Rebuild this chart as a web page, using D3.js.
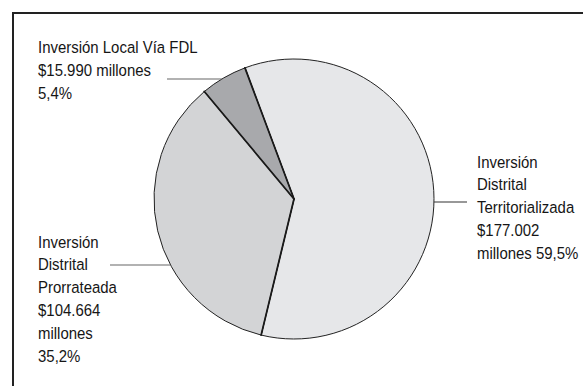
<!DOCTYPE html>
<html>
<head>
<meta charset="utf-8">
<script src="https://cdn.jsdelivr.net/npm/d3@7"></script>
<style>
  html, body { margin: 0; padding: 0; background: #fff; }
  svg { display: block; }
  text { font-family: "Liberation Sans", Arial, Helvetica, sans-serif; font-size: 17px; fill: #161616; }
</style>
</head>
<body>
<svg id="chart" width="583" height="386"></svg>
<script>
// Inversión por componente (millones de pesos)
const categories = ["Inversión Distrital Territorializada", "Inversión Distrital Prorrateada", "Inversión Local Vía FDL"];
const values = [177002, 104664, 15990];
const fills = ["#e6e7e9", "#d3d4d6", "#a8a9ac"];

// Label lines for each slice, as printed
const labelLines = [
  ["Inversión", "Distrital", "Territorializada", "$177.002", "millones 59,5%"],
  ["Inversión", "Distrital", "Prorrateada", "$104.664", "millones", "35,2%"],
  ["Inversión Local Vía FDL", "$15.990 millones", "5,4%"]
];

const W = 583, H = 386;
const cx = 294, cy = 199, R = 140;
const startDeg = -20.5;
const condense = 0.88;   // narrow type

const svg = d3.select("#chart");

// Frame (only top and left edges fall inside the view)
svg.append("rect")
  .attr("x", 13).attr("y", 13)
  .attr("width", W + 20).attr("height", H + 20)
  .attr("fill", "none").attr("stroke", "#222").attr("stroke-width", 2);

const pie = d3.pie().sort(null)
  .startAngle(startDeg * Math.PI / 180)
  .endAngle(startDeg * Math.PI / 180 + 2 * Math.PI);
const arcs = pie(values);
const arc = d3.arc().innerRadius(0).outerRadius(R);

const g = svg.append("g").attr("transform", `translate(${cx},${cy})`);

g.selectAll("path.slice").data(arcs).join("path")
  .attr("class", "slice")
  .attr("d", arc)
  .attr("fill", (d, i) => fills[i])
  .attr("stroke", "#222")
  .attr("stroke-width", 1);

// Heavier radial dividers between slices
g.selectAll("line.divider").data(arcs).join("line")
  .attr("class", "divider")
  .attr("x1", 0).attr("y1", 0)
  .attr("x2", d => R * Math.sin(d.startAngle))
  .attr("y2", d => -R * Math.cos(d.startAngle))
  .attr("stroke", "#1a1a1a")
  .attr("stroke-width", 1.8)
  .attr("stroke-linecap", "round");

// Label placement: text anchor point, first baseline and leader line settings
const labelPos = [
  { x: 477, y: 167.5, leaderY: 202, side: "right", leaderEnd: 467 },
  { x: 38,  y: 247.5, leaderY: 265, side: "left",  leaderEnd: 110 },
  { x: 38,  y: 53,    leaderY: 79,  side: "left",  leaderEnd: 167 }
];
const lineH = 23;

labelLines.forEach((lines, i) => {
  const p = labelPos[i];
  const t = svg.append("text")
    .attr("transform", `translate(${p.x},${p.y}) scale(${condense},1)`);
  lines.forEach((s, k) => {
    t.append("tspan").attr("x", 0).attr("y", k * lineH).text(s);
  });
  // leader meets the circle edge at the leader's height
  const dy = p.leaderY - cy;
  const dx = Math.sqrt(R * R - dy * dy);
  const edgeX = p.side === "right" ? cx + dx : cx - dx;
  svg.append("line")
    .attr("x1", p.leaderEnd).attr("y1", p.leaderY)
    .attr("x2", edgeX).attr("y2", p.leaderY)
    .attr("stroke", i === 0 ? "#333" : "#666")
    .attr("stroke-width", 1.2);
});
</script>
</body>
</html>
